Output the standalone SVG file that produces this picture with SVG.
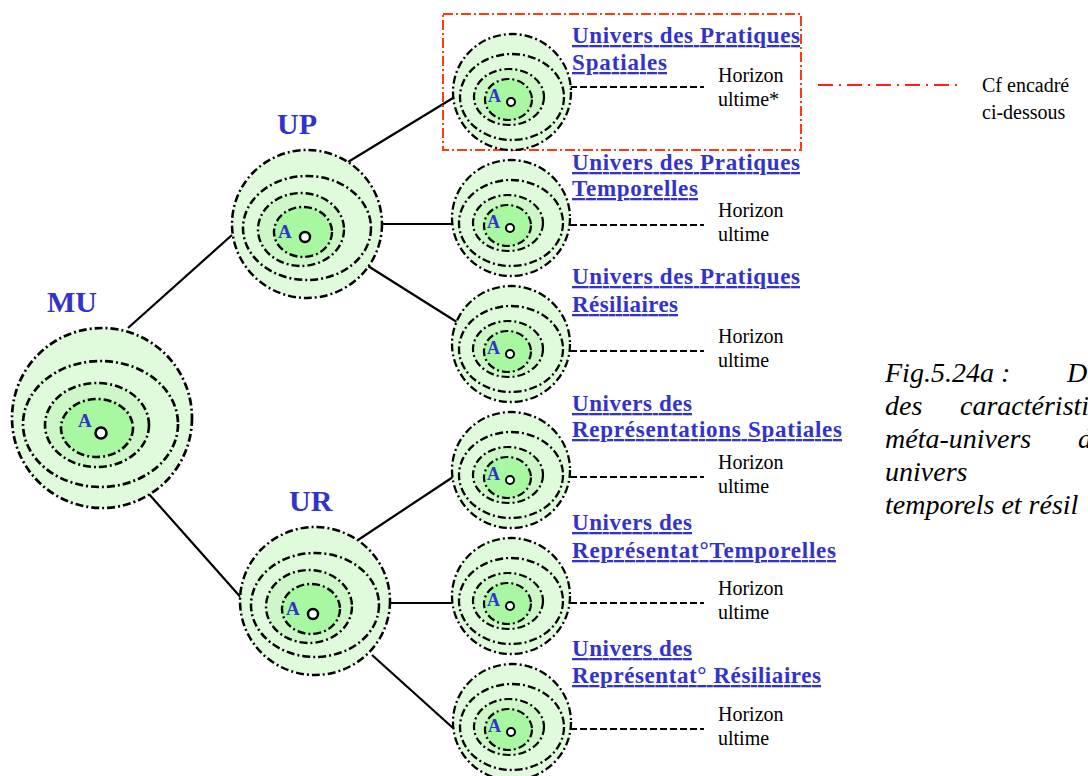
<svg xmlns="http://www.w3.org/2000/svg" xmlns:xlink="http://www.w3.org/1999/xlink" width="1088" height="776" viewBox="0 0 1088 776">
<style>
.ring{stroke:#000;stroke-dasharray:8 3 2 3;}
.o{fill:#dffbdb;}
.n{fill:none;}
.m{fill:#cdf7c6;}
.d{fill:#a8f7a1;}
.dot{fill:#fff;stroke:#000;}
.a{font-family:"Liberation Serif",serif;font-weight:bold;fill:#3333cc;}
.big{font-family:"Liberation Serif",serif;font-weight:bold;font-size:30px;fill:#3333cc;}
.title{font-family:"Liberation Serif",serif;font-weight:bold;font-size:23px;fill:#3333cc;text-decoration:underline;}
.hz{font-family:"Liberation Serif",serif;font-size:20px;fill:#000;}
.cap{font-family:"Liberation Serif",serif;font-style:italic;font-size:28px;fill:#000;}
.edge{stroke:#000;stroke-width:2.2;fill:none;}
.hline{stroke:#000;stroke-width:2;stroke-dasharray:7 3;fill:none;}
</style>
<defs>
<g id="smallNode">
<ellipse class="ring o" cx="1" cy="-10" rx="59" ry="58" stroke-width="2.3"/>
<ellipse class="ring n" cx="1" cy="-5" rx="52" ry="43" stroke-width="2.3"/>
<ellipse class="ring m" cx="-2" cy="-5" rx="35" ry="28" stroke-width="2.2"/>
<ellipse class="ring d" cx="-2.5" cy="-2.5" rx="23.5" ry="20.5" stroke-width="2.2"/>
<text class="a" x="-23" y="0" font-size="18">A</text>
<circle class="dot" cx="0" cy="0" r="4" stroke-width="2"/>
</g>
<g id="midNode">
<ellipse class="ring o" cx="2" cy="-13" rx="75" ry="74" stroke-width="2.5"/>
<ellipse class="ring n" cx="2" cy="-9" rx="64" ry="52" stroke-width="2.5"/>
<ellipse class="ring m" cx="-4" cy="-7.5" rx="43" ry="36.5" stroke-width="2.4"/>
<ellipse class="ring d" cx="-2" cy="-5" rx="29" ry="25" stroke-width="2.4"/>
<text class="a" x="-27" y="1" font-size="19">A</text>
<circle class="dot" cx="0" cy="0" r="5" stroke-width="2.5"/>
</g>
</defs>

<g id="connectors">
<line class="edge" x1="128" y1="328" x2="232" y2="235"/>
<line class="edge" x1="148" y1="493" x2="244" y2="601"/>
<line class="edge" x1="348" y1="162" x2="453" y2="98"/>
<line class="edge" x1="382" y1="224" x2="454" y2="224"/>
<line class="edge" x1="368" y1="266" x2="460" y2="324"/>
<line class="edge" x1="358" y1="540" x2="453" y2="477"/>
<line class="edge" x1="382" y1="603" x2="454" y2="603"/>
<line class="edge" x1="372" y1="655" x2="453" y2="728"/>
<line class="hline" x1="570" y1="87" x2="704" y2="87"/>
<line class="hline" x1="570" y1="225" x2="704" y2="225"/>
<line class="hline" x1="570" y1="351" x2="704" y2="351"/>
<line class="hline" x1="570" y1="477" x2="704" y2="477"/>
<line class="hline" x1="570" y1="603" x2="704" y2="603"/>
<line class="hline" x1="570" y1="729" x2="704" y2="729"/>
<line x1="818" y1="85" x2="963" y2="85" stroke="#ff2020" stroke-width="2" stroke-dasharray="15 6 2 6"/>
</g>

<g id="MU">
<ellipse class="ring o" cx="102" cy="418" rx="90" ry="90" stroke-width="2.7"/>
<ellipse class="ring n" cx="100.5" cy="424" rx="77.5" ry="63" stroke-width="2.7"/>
<ellipse class="ring m" cx="97" cy="425" rx="52" ry="42" stroke-width="2.6"/>
<ellipse class="ring d" cx="97" cy="428" rx="36" ry="29" stroke-width="2.6"/>
<text class="a" x="78" y="427" font-size="19">A</text>
<circle class="dot" cx="101" cy="433" r="5.5" stroke-width="2.6"/>
<text class="big" x="47" y="312">MU</text>
</g>

<g id="UP">
<use xlink:href="#midNode" transform="translate(305,237)"/>
<text class="big" x="277" y="134">UP</text>
</g>

<g id="UR">
<use xlink:href="#midNode" transform="translate(313,614)"/>
<text class="big" x="289" y="511">UR</text>
</g>

<g id="frame">
<rect x="443" y="14" width="358" height="136" fill="none" stroke="#ff3a10" stroke-width="2" stroke-dasharray="10 3 2 3"/>
</g>

<g id="node-ups">
<use xlink:href="#smallNode" transform="translate(511,102)"/>
<text class="title" x="572" y="43" textLength="228">Univers des Pratiques</text>
<text class="title" x="572" y="70" textLength="95">Spatiales</text>
<text class="hz" x="718" y="82">Horizon</text>
<text class="hz" x="718" y="106">ultime*</text>
</g>

<g id="node-upt">
<use xlink:href="#smallNode" transform="translate(510,228)"/>
<text class="title" x="572" y="170" textLength="228">Univers des Pratiques</text>
<text class="title" x="572" y="196" textLength="126">Temporelles</text>
<text class="hz" x="718" y="217">Horizon</text>
<text class="hz" x="718" y="241">ultime</text>
</g>

<g id="node-upr">
<use xlink:href="#smallNode" transform="translate(510,354)"/>
<text class="title" x="572" y="284" textLength="228">Univers des Pratiques</text>
<text class="title" x="572" y="312" textLength="106">Résiliaires</text>
<text class="hz" x="718" y="343">Horizon</text>
<text class="hz" x="718" y="367">ultime</text>
</g>

<g id="node-urs">
<use xlink:href="#smallNode" transform="translate(510,480)"/>
<text class="title" x="572" y="411" textLength="120">Univers des</text>
<text class="title" x="572" y="437" textLength="270">Représentations Spatiales</text>
<text class="hz" x="718" y="469">Horizon</text>
<text class="hz" x="718" y="493">ultime</text>
</g>

<g id="node-urt">
<use xlink:href="#smallNode" transform="translate(510,606)"/>
<text class="title" x="572" y="530" textLength="120">Univers des</text>
<text class="title" x="572" y="558" textLength="264">Représentat°Temporelles</text>
<text class="hz" x="718" y="595">Horizon</text>
<text class="hz" x="718" y="619">ultime</text>
</g>

<g id="node-urr">
<use xlink:href="#smallNode" transform="translate(511,732)"/>
<text class="title" x="572" y="656" textLength="120">Univers des</text>
<text class="title" x="572" y="683" textLength="249">Représentat° Résiliaires</text>
<text class="hz" x="718" y="721">Horizon</text>
<text class="hz" x="718" y="745">ultime</text>
</g>

<g id="legend">
<text class="hz" x="982" y="92">Cf encadré</text>
<text class="hz" x="982" y="119">ci-dessous</text>
</g>

<g id="caption">
<text class="cap" x="885" y="382">Fig.5.24a :</text>
<text class="cap" x="1067" y="382">De</text>
<text class="cap" x="885" y="415">des</text>
<text class="cap" x="960" y="415">caractéristi</text>
<text class="cap" x="885" y="448">méta-univers</text>
<text class="cap" x="1078" y="448">d</text>
<text class="cap" x="885" y="481">univers</text>
<text class="cap" x="885" y="514">temporels et résil</text>
</g>
</svg>
